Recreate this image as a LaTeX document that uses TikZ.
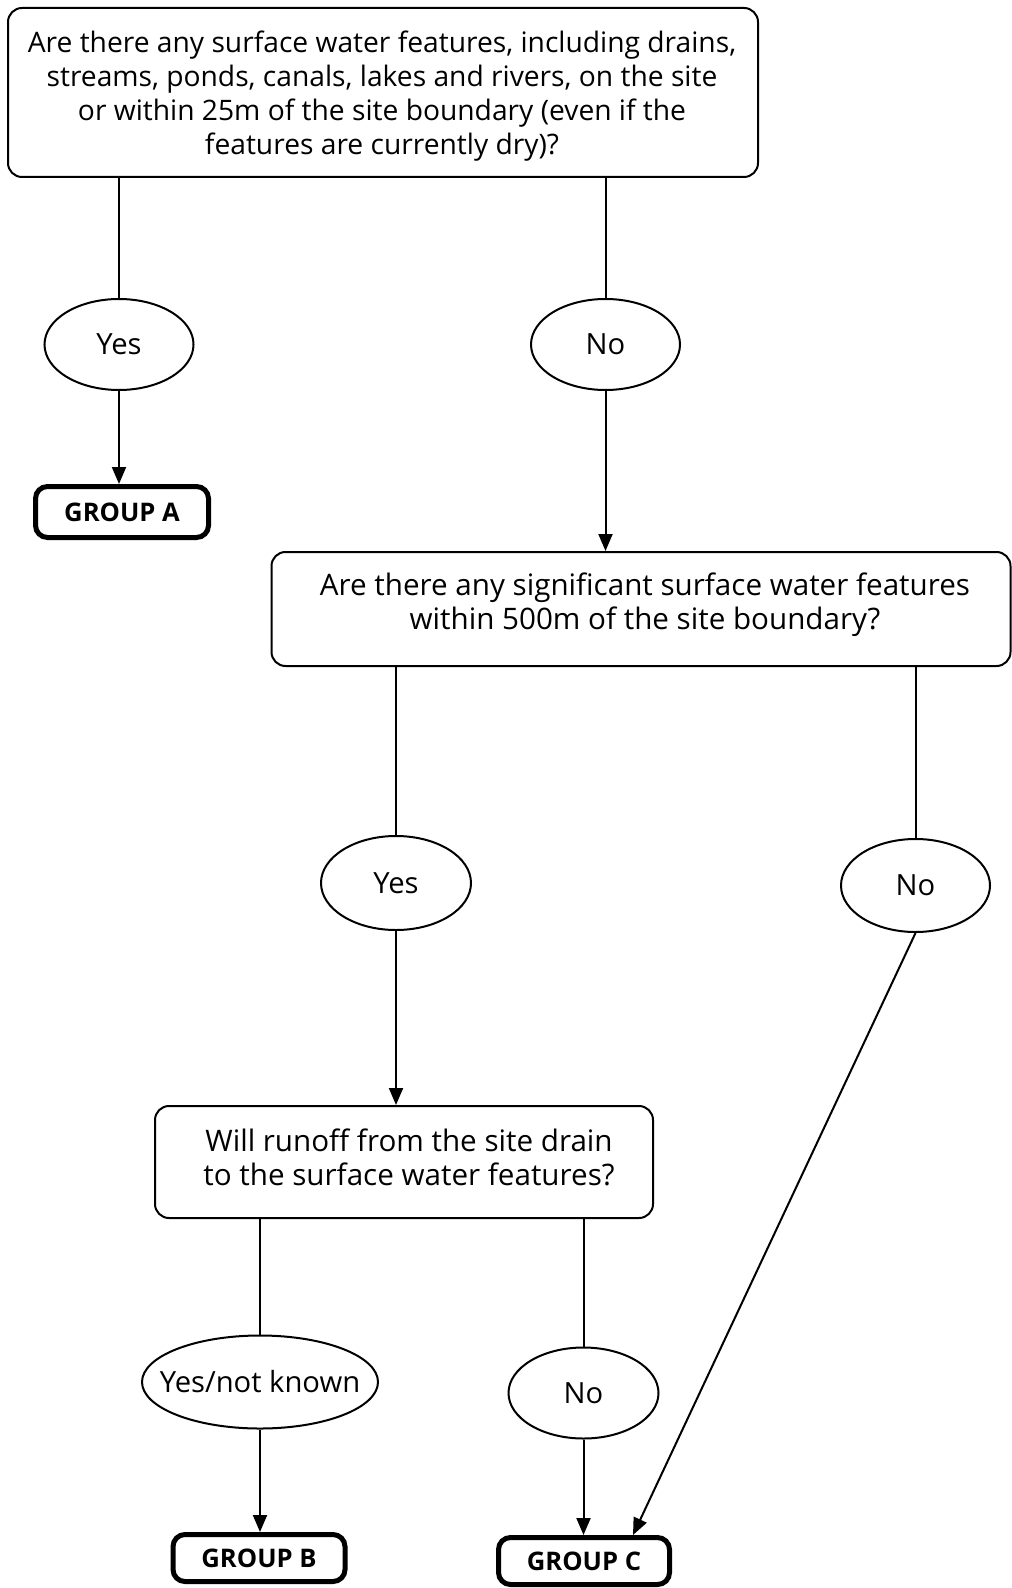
\documentclass[tikz,border=0pt]{standalone}
\usepackage{fontspec}
\setmainfont{Open Sans}
\usetikzlibrary{shapes.geometric,arrows.meta,calc}
\begin{document}
\begin{tikzpicture}[x=0.5pt,y=-0.5pt,
  qbox/.style={draw, line width=1pt, rounded corners=7pt, inner sep=0pt},
  qtext/.style={align=center, inner sep=0pt, font=\fontsize{14.8}{17}\selectfont},
  ans/.style={draw, ellipse, line width=1pt, inner sep=0pt, font=\fontsize{14.6}{17}\selectfont},
  grp/.style={draw, line width=2.5pt, rounded corners=6pt, inner sep=0pt, font=\bfseries\fontsize{12.8}{15}\selectfont},
  link/.style={line width=1pt},
  arr/.style={link, -{Triangle[length=8.5pt,width=7pt]}}]
\useasboundingbox (0,0) rectangle (1011,1588);

% first question
\node[qbox, minimum width=375pt, minimum height=84.5pt] (top) at (383,92.5) {};
\node[qtext, font=\fontsize{14.1}{17}\selectfont] (toptext) at (382,96.5) {Are there any surface water features, including drains,\\
streams, ponds, canals, lakes and rivers, on the site\\
or within 25m of the site boundary (even if the\\
features are currently dry)?};

\node[ans, minimum width=74.5pt, minimum height=45.5pt] (yes1) at (119,344.5) {Yes};
\node[ans, minimum width=74.5pt, minimum height=45.5pt] (no1) at (605.5,344.5) {No};

\node[grp, minimum width=86.5pt, minimum height=25.5pt] (ga) at (122,512) {GROUP A};

% second question
\node[qbox, minimum width=369.5pt, minimum height=57pt] (q2) at (641,609) {};
\node[qtext] (q2text) at (645,605) {Are there any significant surface water features\\
within 500m of the site boundary?};

\node[ans, minimum width=75pt, minimum height=47pt] (yes2) at (396,883) {Yes};
\node[ans, minimum width=74.5pt, minimum height=46.5pt] (no2) at (915.5,885.5) {No};

% third question
\node[qbox, minimum width=249pt, minimum height=56pt] (q3) at (404,1162) {};
\node[qtext] (q3text) at (409,1157) {Will runoff from the site drain\\
to the surface water features?};

\node[ans, minimum width=118pt, minimum height=46.5pt, inner xsep=-9pt] (yk) at (260,1382) {Yes/not known};
\node[ans, minimum width=75pt, minimum height=45.5pt] (no3) at (583.5,1393) {No};

\node[grp, minimum width=86pt, minimum height=23.5pt] (gb) at (259,1558) {GROUP B};
\node[grp, minimum width=85.5pt, minimum height=23.5pt] (gc) at (584,1561) {GROUP C};

% connectors
\draw[link] (yes1 |- top.south) -- (yes1.north);
\draw[link] (no1 |- top.south) -- (no1.north);
\draw[arr] (yes1.south) -- (yes1.south |- ga.north);
\draw[arr] (no1.south) -- (no1.south |- q2.north);

\draw[link] (yes2 |- q2.south) -- (yes2.north);
\draw[link] (no2 |- q2.south) -- (no2.north);
\draw[arr] (yes2.south) -- (yes2.south |- q3.north);
\draw[arr] (no2.south) -- ($(gc.north)+(49,0)$);

\draw[link] (yk |- q3.south) -- (yk.north);
\draw[link] (no3 |- q3.south) -- (no3.north);
\draw[arr] (yk.south) -- (yk.south |- gb.north);
\draw[arr] (no3.south) -- (no3.south |- gc.north);
\end{tikzpicture}
\end{document}
